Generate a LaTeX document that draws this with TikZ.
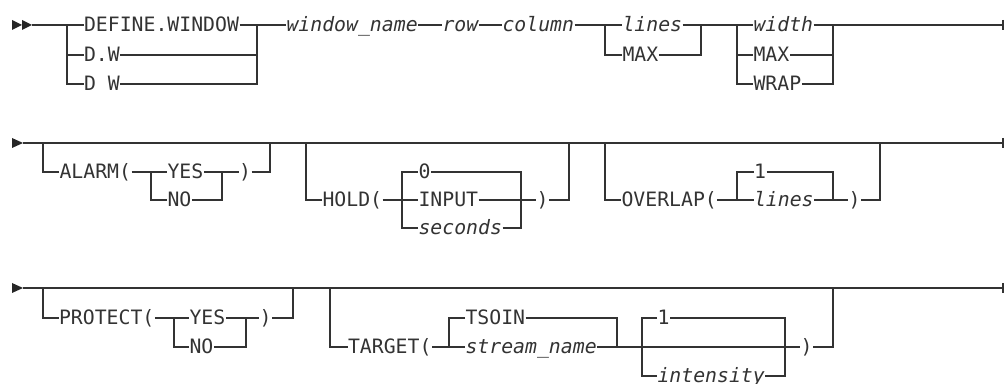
\documentclass[tikz,border=0pt]{standalone}
\usepackage{fontspec}
\setmonofont{DejaVu Sans Mono}
\begin{document}
\begin{tikzpicture}[x=0.5pt,y=-0.5pt,line width=0.55pt,color=black!80,
  kw/.style={anchor=west,inner xsep=0pt,inner ysep=0pt,text height=6.6pt,text depth=0pt,font=\ttfamily\fontsize{9.9}{12}\selectfont},
  var/.style={kw,font=\ttfamily\itshape\fontsize{9.9}{12}\selectfont},
  tip/.style={fill=black!85,draw=none}]
\useasboundingbox (0,0) rectangle (1005,384);
% row 1
\fill[tip] (12,20) -- (22,25) -- (12,30) -- cycle;
\fill[tip] (22,20) -- (32,25) -- (22,30) -- cycle;
\coordinate (s1) at (32,25);
\coordinate (e1) at (1003,25);
\node[kw] (defw) at (83.5,25) {DEFINE.WINDOW};
\node[kw] (dw) at (83.5,55) {D.W};
\node[kw] (dsw) at (83.5,84) {D W};
\node[var] (wname) at (286,25) {window\_name};
\node[var] (row) at (442,25) {row};
\node[var] (col) at (502,25) {column};
\node[var] (lin) at (622,25) {lines};
\node[kw] (lmax) at (622,55) {MAX};
\node[var] (wid) at (753,25) {width};
\node[kw] (wmax) at (753,55) {MAX};
\node[kw] (wrap) at (753,84) {WRAP};
\coordinate (j1a) at (67,25);
\coordinate (j1b) at (257,25);
\coordinate (j1c) at (605,25);
\coordinate (j1d) at (701,25);
\coordinate (j1e) at (737,25);
\coordinate (j1f) at (833,25);
\draw (s1) -- (defw.west);
\draw (dw.west) -- (dw.west -| j1a);
\draw (dsw.west) -| (j1a);
\draw (defw.east) -- (wname.west);
\draw (dw.east) -- (dw.east -| j1b);
\draw (dsw.east) -| (j1b);
\draw (wname) -- (row);
\draw (row) -- (col);
\draw (col) -- (lin);
\draw (lmax.west) -| (j1c);
\draw (lmax.east) -| (j1d);
\draw (lin) -- (wid);
\draw (wmax.west) -- (wmax.west -| j1e);
\draw (wrap.west) -| (j1e);
\draw (wmax.east) -- (wmax.east -| j1f);
\draw (wrap.east) -| (j1f);
\draw (wid.east) -- (e1);
\draw (e1) ++(0,-5) -- ++(0,10);
% row 2
\fill[tip] (12,138) -- (23,143) -- (12,148) -- cycle;
\coordinate (s2) at (23,143);
\coordinate (e2) at (1003,143);
\draw (s2) -- (e2);
\draw (e2) ++(0,-5) -- ++(0,10);
\node[kw] (alarm) at (59,172) {ALARM(};
\node[kw] (ayes) at (167,172) {YES};
\node[kw] (ano) at (167,200) {NO};
\node[kw] (arp) at (238.5,172) {)};
\node[kw] (hold) at (322,200) {HOLD(};
\node[kw] (hzero) at (418,172) {0};
\node[kw] (hinp) at (418,200) {INPUT};
\node[var] (hsec) at (418,228) {seconds};
\node[kw] (hrp) at (536,200) {)};
\node[kw] (ovl) at (621,200) {OVERLAP(};
\node[kw] (oone) at (753.5,172) {1};
\node[var] (olin) at (753.5,200) {lines};
\node[kw] (orp) at (848,200) {)};
\coordinate (j2a) at (43,143);
\coordinate (j2b) at (151,172);
\coordinate (j2c) at (222,172);
\coordinate (j2d) at (270,143);
\coordinate (j2e) at (306,143);
\coordinate (j2f) at (402,200);
\coordinate (j2g) at (521,200);
\coordinate (j2h) at (569,143);
\coordinate (j2i) at (605,143);
\coordinate (j2j) at (737,200);
\coordinate (j2k) at (833,200);
\coordinate (j2l) at (880,143);
\draw (alarm.west) -| (j2a);
\draw (alarm) -- (ayes);
\draw (ano.west) -| (j2b);
\draw (ayes) -- (arp);
\draw (ano.east) -| (j2c);
\draw (arp.east) -| (j2d);
\draw (hold.west) -| (j2e);
\draw (hold) -- (hinp);
\draw (hzero.west) -| (j2f);
\draw (hsec.west) -| (j2f);
\draw (hzero.east) -| (j2g);
\draw (hsec.east) -| (j2g);
\draw (hinp) -- (hrp);
\draw (hrp.east) -| (j2h);
\draw (ovl.west) -| (j2i);
\draw (ovl) -- (olin);
\draw (oone.west) -| (j2j);
\draw (oone.east) -| (j2k);
\draw (olin) -- (orp);
\draw (orp.east) -| (j2l);
% row 3
\fill[tip] (12,283) -- (23,288) -- (12,293) -- cycle;
\coordinate (s3) at (23,288);
\coordinate (e3) at (1003,288);
\draw (s3) -- (e3);
\draw (e3) ++(0,-5) -- ++(0,10);
\node[kw] (prot) at (58.5,318) {PROTECT(};
\node[kw] (pyes) at (189,318) {YES};
\node[kw] (pno) at (189,347) {NO};
\node[kw] (prp) at (259,318) {)};
\node[kw] (tgt) at (347.5,347) {TARGET(};
\node[kw] (tso) at (465,318) {TSOIN};
\node[var] (tstr) at (465,347) {stream\_name};
\node[kw] (tone) at (657,318) {1};
\node[var] (tint) at (657,376) {intensity};
\node[kw] (trp) at (800,347) {)};
\coordinate (j3a) at (43,288);
\coordinate (j3b) at (174,318);
\coordinate (j3c) at (246,318);
\coordinate (j3d) at (293,288);
\coordinate (j3e) at (330,288);
\coordinate (j3f) at (449,347);
\coordinate (j3g) at (617,347);
\coordinate (j3h) at (642,347);
\coordinate (j3i) at (785,347);
\coordinate (j3j) at (833,288);
\draw (prot.west) -| (j3a);
\draw (prot) -- (pyes);
\draw (pno.west) -| (j3b);
\draw (pyes) -- (prp);
\draw (pno.east) -| (j3c);
\draw (prp.east) -| (j3d);
\draw (tgt.west) -| (j3e);
\draw (tgt) -- (tstr);
\draw (tso.west) -| (j3f);
\draw (tso.east) -| (j3g);
\draw (tstr) -- (trp);
\draw (tone.west) -| (j3h);
\draw (tint.west) -| (j3h);
\draw (tone.east) -| (j3i);
\draw (tint.east) -| (j3i);
\draw (trp.east) -| (j3j);
\end{tikzpicture}
\end{document}
